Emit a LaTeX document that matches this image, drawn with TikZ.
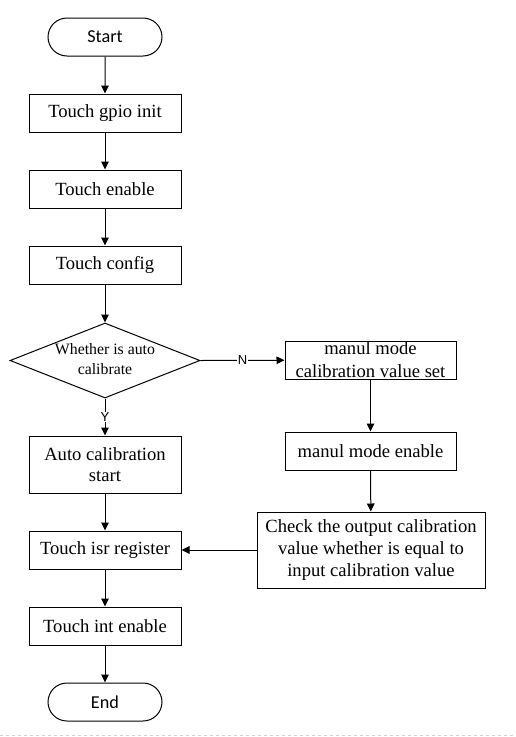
\documentclass[tikz,border=0pt]{standalone}
\usepackage{fontspec}
\setmainfont{Liberation Serif}
\newfontfamily\startfont{Carlito}
\newfontfamily\lblfont{Liberation Sans}
\usetikzlibrary{arrows.meta,shapes.geometric,shapes.misc}
\tikzset{
  box/.style={draw, line width=1pt, rectangle, inner sep=0pt, minimum width=152pt, minimum height=38pt, align=center, font=\fontsize{18.6}{22}\selectfont},
  term/.style={draw, line width=1pt, rounded rectangle, inner sep=0pt, minimum width=114pt, minimum height=38pt, font=\startfont\fontsize{18.2}{20}\selectfont},
  dec/.style={draw, line width=1pt, diamond, inner sep=0pt, minimum width=190pt, minimum height=75pt},
  dectext/.style={align=center, font=\fontsize{15.8}{19.5}\selectfont},
  arr/.style={line width=1pt, -{Triangle[length=8pt,width=7.5pt]}},
  lbl/.style={fill=white, inner sep=1pt, font=\lblfont\fontsize{13}{15}\selectfont}
}
\begin{document}
\begin{tikzpicture}[x=1pt,y=-1pt]
\useasboundingbox (0,0) rectangle (515,737);
\node[term] (start) at (105,37) {Start};
\node[box] (gpio) at (105,113) {Touch gpio init};
\node[box] (en) at (105,189) {Touch enable};
\node[box] (cfg) at (105,265) {Touch config};
\node[dec] (dec) at (105,360.5) {};
\node[dectext] (dect) at (105,359) {Whether is auto\\calibrate};
\node[box, minimum width=171pt, font=\fontsize{18.6}{23}\selectfont] (mset) at (370.5,360) {manul mode\\calibration value set};
\node[box, minimum width=171pt] (men) at (370.5,451) {manul mode enable};
\node[box, minimum width=228pt, minimum height=76pt] (chk) at (371,550) {Check the output calibration\\value whether is equal to\\input calibration value};
\node[box, minimum height=57pt, font=\fontsize{18.6}{21.5}\selectfont] (auto) at (105,464.5) {Auto calibration\\start};
\node[box] (isr) at (105,550) {Touch isr register};
\node[box] (int) at (105,626) {Touch int enable};
\node[term] (end) at (105,702) {End};
\draw[arr] (start) -- (gpio);
\draw[arr] (gpio) -- (en);
\draw[arr] (en) -- (cfg);
\draw[arr] (cfg) -- (dec.north);
\draw[arr] (dec.east) -- node[lbl] (n) {N} (mset);
\draw[arr] (dec.south) -- node[lbl] (y) {Y} (auto);
\draw[arr] (mset) -- (men);
\draw[arr] (men) -- (chk);
\draw[arr] (chk) -- (isr);
\draw[arr] (auto) -- (isr);
\draw[arr] (isr) -- (int);
\draw[arr] (int) -- (end);
\coordinate (dl) at (0,735.5);
\coordinate (dr) at (515,735.5);
\draw[gray!35, dashed, line width=0.8pt] (dl) -- (dr);
\end{tikzpicture}
\end{document}
